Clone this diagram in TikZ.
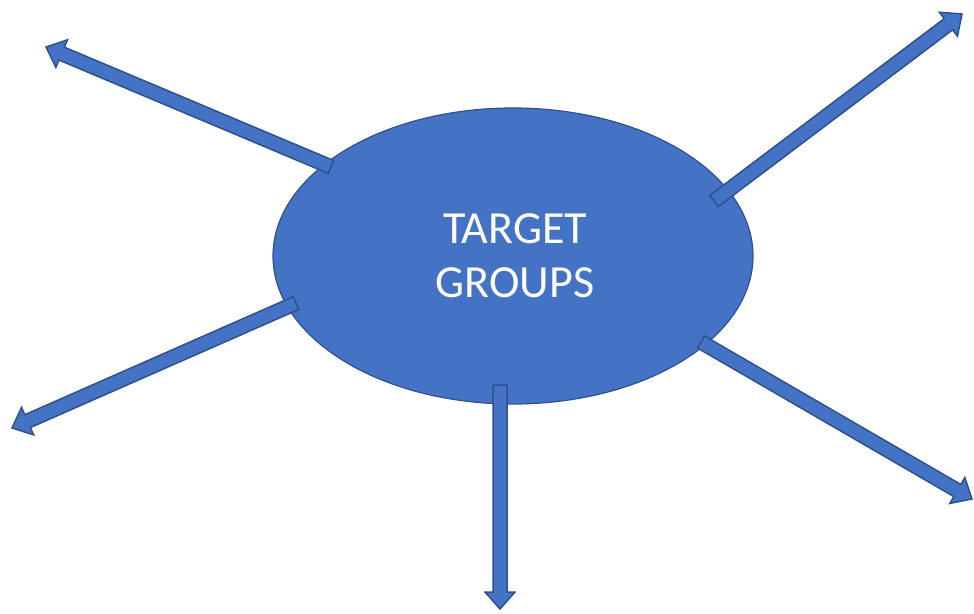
\documentclass[tikz,border=0pt]{standalone}
\usepackage{fontspec}
\setmainfont{Carlito}
\usetikzlibrary{calc,shapes.geometric}
\definecolor{fillblue}{HTML}{4472C4}
\definecolor{edgeblue}{HTML}{2F528F}
\tikzset{
  blob/.style={ellipse, fill=fillblue, draw=edgeblue, line width=1.2pt,
    minimum width=480pt, minimum height=296pt, inner sep=0pt},
  label/.style={text=white, align=center, font=\fontsize{46}{54}\selectfont},
  barrow/.style={fill=fillblue, draw=edgeblue, line width=1.5pt, line join=miter}
}
\newcommand\blockarrow[2]{%
  \draw[barrow] let \p1=($(#2)-(#1)$), \n1={veclen(\x1,\y1)}, \n2={atan2(\y1,\x1)} in
    ($(#1)+(\n2+90:7pt)$)
    -- ($(#1)+(\n2:\n1-17pt)+(\n2+90:7pt)$)
    -- ($(#1)+(\n2:\n1-17pt)+(\n2+90:15pt)$)
    -- (#2)
    -- ($(#1)+(\n2:\n1-17pt)+(\n2-90:15pt)$)
    -- ($(#1)+(\n2:\n1-17pt)+(\n2-90:7pt)$)
    -- ($(#1)+(\n2-90:7pt)$) -- cycle;}
\begin{document}
\begin{tikzpicture}[x=1pt,y=-1pt]
\useasboundingbox (0,0) rectangle (974,613);
\node[blob] (tg) at (513,256) {};
\node[label] (txt) at (515,256) {TARGET\\GROUPS};
\coordinate (t1) at (331,167); \coordinate (h1) at (46,47);
\coordinate (t2) at (714,201); \coordinate (h2) at (962,14);
\coordinate (t3) at (296,303); \coordinate (h3) at (12,428);
\coordinate (t4) at (500,385); \coordinate (h4) at (500,609);
\coordinate (t5) at (701,342); \coordinate (h5) at (972,499);
\blockarrow{t1}{h1}
\blockarrow{t2}{h2}
\blockarrow{t3}{h3}
\blockarrow{t4}{h4}
\blockarrow{t5}{h5}
\end{tikzpicture}
\end{document}
